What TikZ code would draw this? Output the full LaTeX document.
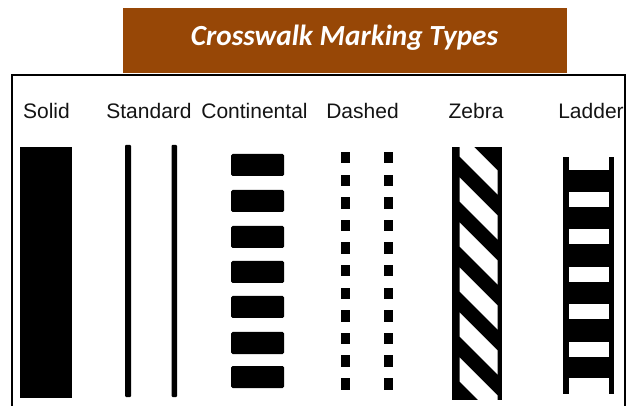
\documentclass[tikz,border=0pt]{standalone}
\usepackage{fontspec}
\setmainfont{Liberation Sans}
\newfontfamily\titlefont{Carlito}
\definecolor{titlebrown}{RGB}{151,71,6}
\begin{document}
\begin{tikzpicture}[x=1pt,y=-1pt,
  lbl/.style={font=\fontsize{21}{24}\selectfont, text=black!92, anchor=base, inner sep=0pt},
  paint/.style={fill=black}]
\useasboundingbox (0,0) rectangle (627,406);
\fill[white] (0,0) rectangle (627,406);
% title banner
\fill[titlebrown] (123,8) rectangle (567,73);
\node[text=white, font=\titlefont\bfseries\itshape\fontsize{29.2}{32}\selectfont, anchor=base, inner sep=0pt] (title) at (344.5,45.5) {Crosswalk Marking Types};
% labels
\node[lbl] (lsolid) at (46.5,119) {Solid};
\node[lbl] (lstd) at (149,119) {Standard};
\node[lbl] (lcont) at (254.5,119) {Continental};
\node[lbl] (ldash) at (362.5,119) {Dashed};
\node[lbl] (lzebra) at (476,119) {Zebra};
\node[lbl] (lladder) at (591,119) {Ladder};
% frame
\draw[line width=2pt] (12,406) -- (12,75) -- (624.5,75) -- (624.5,406);
% solid
\fill[paint] (20,147) rectangle (72,398);
% standard
\fill[paint, rounded corners=1pt] (125,145) rectangle (131,397);
\fill[paint, rounded corners=1pt] (171.5,145) rectangle (177,397);
% continental
\foreach \y in {154,190,226,261,296,332,366}
  \fill[paint, rounded corners=1.5pt] (231,\y) rectangle (284,\y+22);
% dashed
\foreach \i in {0,...,10} {
  \fill[paint] (341,152+22.6*\i) rectangle ++(8.5,11.5);
  \fill[paint] (384,152+22.6*\i) rectangle ++(8.5,11.5);
}
% zebra
\fill[paint] (452,147.5) rectangle (502,400);
\begin{scope}
  \clip (459.5,147.5) rectangle (497.5,400);
  \foreach \y in {133,178,...,358}
    \fill[white] (440,\y-20) -- (520,\y+60) -- (520,\y+84) -- (440,\y+4) -- cycle;
\end{scope}
% ladder
\fill[paint] (563,157) rectangle (568.5,394);
\fill[paint] (608.5,157) rectangle (614,394);
\fill[paint] (568,170) rectangle (609,378);
\foreach \y in {192,229.5,267,304.5,342}
  \fill[white] (568.5,\y) rectangle (608.5,\y+15);
\end{tikzpicture}
\end{document}
